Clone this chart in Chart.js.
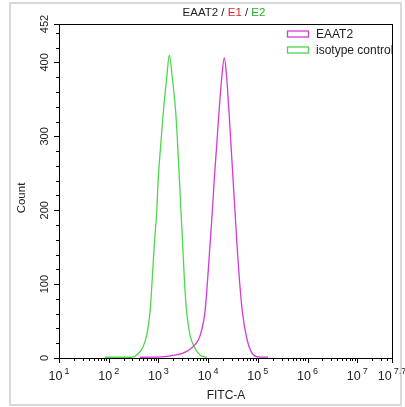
<!DOCTYPE html>
<html>
<head>
<meta charset="utf-8">
<script src="https://cdn.jsdelivr.net/npm/chart.js@4.4.0/dist/chart.umd.min.js"></script>
<style>
  html, body { margin: 0; padding: 0; background: #fff; }
  canvas { display: block; }
</style>
</head>
<body>
<canvas id="chart" width="405" height="407"></canvas>
<script>
// FITC-A intensity (x) and event count (y)
const eaat2X = [427, 1164, 2158, 2944, 3945, 5445, 6871, 8670, 9822, 10925, 12150, 13336, 14900, 16570, 18780, 21190, 23670, 26350, 28900, 31700, 34770, 38130, 42460, 48760, 59800, 73000, 95000, 160300];
const eaat2Y = [1, 1.5, 4, 6, 10, 18, 30, 63, 108, 153, 198, 243, 288, 333, 379, 406, 379, 333, 288, 243, 198, 153, 108, 63, 27, 9, 2, 1];

const isoX = [84, 290, 366, 490, 582, 678, 753, 826, 925, 995, 1112, 1256, 1469, 1656, 1905, 2228, 2443, 2636, 2851, 3083, 3319, 3707, 4325, 5272, 6871, 9376];
const isoY = [1, 1, 4, 15, 31, 62, 108, 153, 198, 244, 288, 333, 379, 410, 379, 333, 288, 244, 198, 153, 108, 62, 31, 15, 4, 1];

const seriesNames = [`EAAT2`, `isotype control`];
const seriesColors = [`#d43ad4`, `#4cd84c`];

const decadeExps = [1, 2, 3, 4, 5, 6, 7, 7.7];
const decadeLabels = [`1`, `2`, `3`, `4`, `5`, `6`, `7`, `7.7`];
const yMajor = [0, 100, 200, 300, 400, 452];
const yMax = 452;

function toPoints(xs, ys) {
  return xs.map((x, i) => ({ x: x, y: ys[i] }));
}

const FONT = `"Liberation Sans", Arial, sans-serif`;

const decorations = {
  id: `decorations`,
  afterDraw(chart) {
    const ctx = chart.ctx;
    const area = chart.chartArea;
    const xs = chart.scales.x;
    const ys = chart.scales.y;
    ctx.save();

    // outer grey frame
    ctx.strokeStyle = `#d9d9d9`;
    ctx.lineWidth = 2;
    ctx.strokeRect(10, 3, 391, 402);

    // plot box
    ctx.strokeStyle = `#000`;
    ctx.lineWidth = 1;
    ctx.strokeRect(area.left + 0.5, area.top + 0.5, area.right - area.left, area.bottom - area.top);

    // x ticks
    ctx.beginPath();
    for (let d = 1; d <= 7; d++) {
      for (let m = 2; m <= 9; m++) {
        const v = m * Math.pow(10, d);
        if (v > xs.max) continue;
        const px = Math.round(xs.getPixelForValue(v)) + 0.5;
        ctx.moveTo(px, area.bottom);
        ctx.lineTo(px, area.bottom + 3);
      }
    }
    decadeExps.forEach((e) => {
      const px = Math.round(xs.getPixelForValue(Math.pow(10, e))) + 0.5;
      ctx.moveTo(px, area.bottom);
      ctx.lineTo(px, area.bottom + 5);
    });
    // y ticks
    for (let v = 0; v <= yMax; v += 20) {
      const py = Math.round(ys.getPixelForValue(v)) + 0.5;
      ctx.moveTo(area.left - 3, py);
      ctx.lineTo(area.left, py);
    }
    yMajor.forEach((v) => {
      const py = Math.round(ys.getPixelForValue(v)) + 0.5;
      ctx.moveTo(area.left - 5, py);
      ctx.lineTo(area.left, py);
    });
    ctx.stroke();

    // x tick labels: 10 with raised exponent
    ctx.fillStyle = `#222`;
    ctx.textBaseline = `alphabetic`;
    ctx.textAlign = `left`;
    decadeExps.forEach((e, i) => {
      const px = xs.getPixelForValue(Math.pow(10, e));
      ctx.font = `12.5px ${FONT}`;
      const wBase = ctx.measureText(`10`).width;
      ctx.font = `9px ${FONT}`;
      const wExp = ctx.measureText(decadeLabels[i]).width;
      const total = wBase + 2 + wExp;
      const x0 = px - total / 2;
      ctx.font = `12.5px ${FONT}`;
      ctx.fillText(`10`, x0, 380);
      ctx.font = `9px ${FONT}`;
      ctx.fillText(decadeLabels[i], x0 + wBase + 2, 374);
    });

    // y tick labels, rotated
    ctx.font = `11px ${FONT}`;
    ctx.textAlign = `center`;
    ctx.textBaseline = `middle`;
    yMajor.forEach((v) => {
      const py = ys.getPixelForValue(v);
      ctx.save();
      ctx.translate(45, py);
      ctx.rotate(-Math.PI / 2);
      ctx.fillText(String(v), 0, 0);
      ctx.restore();
    });

    // axis titles
    ctx.font = `11.5px ${FONT}`;
    ctx.save();
    ctx.translate(22, 198);
    ctx.rotate(-Math.PI / 2);
    ctx.fillText(`Count`, 0, 0);
    ctx.restore();
    ctx.font = `12px ${FONT}`;
    ctx.fillText(`FITC-A`, 226, 396);

    // title with coloured parts
    const parts = [[`EAAT2`, `#222`], [` / `, `#222`], [`E1`, `#d22`], [` / `, `#222`], [`E2`, `#2a2`]];
    ctx.font = `11.5px ${FONT}`;
    ctx.textAlign = `left`;
    let tw = 0;
    parts.forEach((p) => { tw += ctx.measureText(p[0]).width; });
    let tx = 224 - tw / 2;
    parts.forEach((p) => {
      ctx.fillStyle = p[1];
      ctx.fillText(p[0], tx, 13);
      tx += ctx.measureText(p[0]).width;
    });

    // legend
    ctx.save();
    ctx.beginPath();
    ctx.rect(area.left, area.top, area.right - area.left, area.bottom - area.top);
    ctx.clip();
    ctx.font = `12px ${FONT}`;
    seriesNames.forEach((name, i) => {
      const cy = 34 + i * 16;
      ctx.strokeStyle = seriesColors[i];
      ctx.lineWidth = 1.3;
      ctx.strokeRect(287.5, cy - 3, 21, 6);
      ctx.fillStyle = `#222`;
      ctx.fillText(name, 316, cy + 0.5);
    });
    ctx.restore();

    ctx.restore();
  },
};

const ctx = document.getElementById(`chart`).getContext(`2d`);
const myChart = new Chart(ctx, {
  type: `line`,
  data: {
    datasets: [
      {
        label: seriesNames[0],
        data: toPoints(eaat2X, eaat2Y),
        borderColor: seriesColors[0],
        borderWidth: 1.3,
        pointRadius: 0,
        cubicInterpolationMode: `monotone`,
        fill: false,
      },
      {
        label: seriesNames[1],
        data: toPoints(isoX, isoY),
        borderColor: seriesColors[1],
        borderWidth: 1.3,
        pointRadius: 0,
        cubicInterpolationMode: `monotone`,
        fill: false,
      },
    ],
  },
  options: {
    responsive: false,
    animation: false,
    devicePixelRatio: 1,
    layout: { padding: { left: 59, right: 13, top: 24, bottom: 49 } },
    plugins: {
      legend: { display: false },
      title: { display: false },
      tooltip: { enabled: false },
    },
    scales: {
      x: {
        type: `logarithmic`,
        min: 10,
        max: Math.pow(10, 7.7),
        display: false,
      },
      y: {
        type: `linear`,
        min: 0,
        max: yMax,
        display: false,
      },
    },
  },
  plugins: [decorations],
});
</script>
</body>
</html>
